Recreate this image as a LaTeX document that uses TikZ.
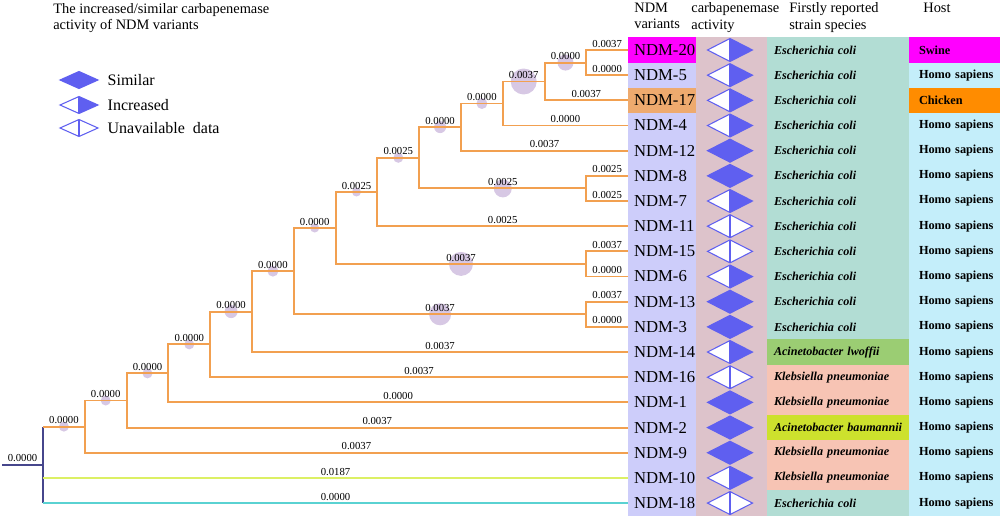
\documentclass[tikz,border=0pt]{standalone}
\usepackage{fontspec}
\setmainfont{Liberation Serif}
\usepackage{tikz}
\usetikzlibrary{positioning, shapes, calc}

\definecolor{ndm}{RGB}{205,205,250}
\definecolor{actbg}{RGB}{221,195,203}
\definecolor{actc}{RGB}{95,95,240}
\definecolor{eco}{RGB}{178,221,212}
\definecolor{alw}{RGB}{155,205,115}
\definecolor{kpn}{RGB}{247,196,180}
\definecolor{aba}{RGB}{205,225,45}
\definecolor{hom}{RGB}{196,238,250}
\definecolor{swi}{RGB}{255,0,255}
\definecolor{chk}{RGB}{255,140,0}
\definecolor{mag}{RGB}{255,0,255}
\definecolor{tan}{RGB}{238,170,110}
\definecolor{tree}{RGB}{242,160,80}
\definecolor{yel}{RGB}{220,240,100}
\definecolor{cyn}{RGB}{90,210,210}
\definecolor{navy}{RGB}{70,70,140}
\definecolor{bubble}{RGB}{215,200,228}

\begin{document}
\begin{tikzpicture}[x=0.02cm, y=-0.02cm,
  br/.style     = {draw=tree, line width=1.1pt},
  lbl/.style    = {above, pos=0.75, inner sep=1pt, font=\fontsize{6.1}{7}\selectfont},
  bub/.style    = {fill=bubble},
  dia/.style    = {diamond, draw=actc, line width=0.6pt, inner sep=0pt, outer sep=0pt, minimum width=0.9cm, minimum height=0.46cm},
  sim/.style    = {fill=actc},
  inc/.style    = {fill=white, path picture={
                     \fill[actc] (path picture bounding box.north) -- (path picture bounding box.east)
                                 -- (path picture bounding box.south) -- cycle;
                     \draw[actc, line width=0.6pt] (path picture bounding box.north) -- (path picture bounding box.south);}},
  una/.style    = {fill=white, path picture={
                     \draw[actc, line width=0.6pt] (path picture bounding box.north) -- (path picture bounding box.south);}},
  cell/.style   = {anchor=west, inner ysep=0pt, outer sep=0pt, minimum height=0.5034cm, align=left},
  ndmcell/.style= {cell, text width=1.12cm, inner xsep=0.12cm, font=\fontsize{9.5}{10}\selectfont},
  spcell/.style = {cell, text width=2.56cm, inner xsep=0.14cm, font=\fontsize{6.9}{8}\selectfont\bfseries\itshape},
  hocell/.style = {cell, text width=1.42cm, inner xsep=0.2cm, font=\fontsize{7}{8}\selectfont\bfseries},
  head/.style   = {anchor=north west, inner sep=0pt, align=left, font=\fontsize{8.2}{9.4}\selectfont},
  lgd/.style    = {font=\fontsize{9.1}{10}\selectfont}
]

\useasboundingbox (0,0) rectangle (1000,517);

\node [head] at (53,3)    (title) {The increased/similar carbapenemase\\activity of NDM variants};
\node [head] at (634,2.5) (hv)    {NDM\\variants};
\node [head] at (691,2.5) (ha)    {carbapenemase\\activity};
\node [head] at (789,2.5) (hs)    {Firstly reported\\strain species};
\node [head] at (923,2.5) (hh)    {Host};

\node [dia, sim, minimum width=0.76cm, minimum height=0.34cm] at (79,80)  (ls) {};
\node [dia, inc, minimum width=0.76cm, minimum height=0.34cm] at (79,105) (li) {};
\node [dia, una, minimum width=0.76cm, minimum height=0.34cm] at (79,128) (lu) {};
\node [lgd, right=0.07cm of ls] (lst) {Similar};
\node [lgd, right=0.07cm of li] (lit) {Increased};
\node [lgd, right=0.07cm of lu] (lut) {Unavailable~~data};

\fill [actbg] (696,37.4) rectangle (767,515.6);

\foreach \nv/\ak/\sn/\sk/\hn/\hk/\nk [count=\i from 0] in {
  20/inc/Escherichia coli/eco/Swine/swi/mag,
  5/inc/Escherichia coli/eco/Homo sapiens/hom/ndm,
  17/inc/Escherichia coli/eco/Chicken/chk/tan,
  4/inc/Escherichia coli/eco/Homo sapiens/hom/ndm,
  12/sim/Escherichia coli/eco/Homo sapiens/hom/ndm,
  8/sim/Escherichia coli/eco/Homo sapiens/hom/ndm,
  7/inc/Escherichia coli/eco/Homo sapiens/hom/ndm,
  11/una/Escherichia coli/eco/Homo sapiens/hom/ndm,
  15/una/Escherichia coli/eco/Homo sapiens/hom/ndm,
  6/inc/Escherichia coli/eco/Homo sapiens/hom/ndm,
  13/sim/Escherichia coli/eco/Homo sapiens/hom/ndm,
  3/sim/Escherichia coli/eco/Homo sapiens/hom/ndm,
  14/inc/Acinetobacter lwoffii/alw/Homo sapiens/hom/ndm,
  16/una/Klebsiella pneumoniae/kpn/Homo sapiens/hom/ndm,
  1/sim/Klebsiella pneumoniae/kpn/Homo sapiens/hom/ndm,
  2/sim/Acinetobacter baumannii/aba/Homo sapiens/hom/ndm,
  9/sim/Klebsiella pneumoniae/kpn/Homo sapiens/hom/ndm,
  10/inc/Klebsiella pneumoniae/kpn/Homo sapiens/hom/ndm,
  18/una/Escherichia coli/eco/Homo sapiens/hom/ndm}
{
  \node [ndmcell, fill=\nk] at (628,{50+25.17*\i}) (n\nv) {\mbox{NDM-\nv}};
  \node [dia, \ak]          at (730,{50+25.17*\i}) (a\nv) {};
  \node [spcell, fill=\sk]  at (767,{50+25.17*\i}) (s\nv) {\mbox{\sn}};
  \node [hocell, fill=\hk]  at (909,{50+25.17*\i}) (h\nv) {\mbox{\hn}};
}

\coordinate (o) at (2,464.8);
\coordinate (r) at (43,464.8);
\coordinate (a) at (84.8,426.6);
\coordinate (b) at (126.6,400.5);
\coordinate (c) at (168.4,373.4);
\coordinate (d) at (210.2,344.4);
\coordinate (e) at (252,311.6);
\coordinate (f) at (293.8,271.1);
\coordinate (g) at (335.6,228.0);
\coordinate (h) at (377.4,192.0);
\coordinate (i) at (419.2,157.8);
\coordinate (j) at (461,127.1);
\coordinate (k) at (502.8,103.5);
\coordinate (l) at (544.6,81.5);
\coordinate (m) at (586.4,62.6);
\coordinate (q) at (586.4,188.4);
\coordinate (s) at (586.4,263.9);
\coordinate (t) at (586.4,314.3);

\fill [bub] ($(r |- a)!.5!(a)$) circle (0.10cm);
\fill [bub] ($(a |- b)!.5!(b)$) circle (0.10cm);
\fill [bub] ($(b |- c)!.5!(c)$) circle (0.10cm);
\fill [bub] ($(c |- d)!.5!(d)$) circle (0.10cm);
\fill [bub] ($(d |- e)!.5!(e)$) circle (0.13cm);
\fill [bub] ($(e |- f)!.5!(f)$) circle (0.11cm);
\fill [bub] ($(f |- g)!.5!(g)$) circle (0.09cm);
\fill [bub] ($(f |- t)!.5!(t)$) circle (0.22cm);
\fill [bub] ($(g |- h)!.5!(h)$) circle (0.09cm);
\fill [bub] ($(g |- s)!.5!(s)$) circle (0.24cm);
\fill [bub] ($(h |- i)!.5!(i)$) circle (0.10cm);
\fill [bub] ($(i |- j)!.5!(j)$) circle (0.12cm);
\fill [bub] ($(i |- q)!.5!(q)$) circle (0.18cm);
\fill [bub] ($(j |- k)!.5!(k)$) circle (0.11cm);
\fill [bub] ($(k |- l)!.5!(l)$) circle (0.26cm);
\fill [bub] ($(l |- m)!.5!(m)$) circle (0.16cm);

\draw [br, draw=navy] (o) -- node [lbl, pos=.5] {0.0000} (r);
\draw [br, draw=navy] (r |- a) -- (r |- n18.west);
\draw [br]            (r |- a) -- node [lbl, pos=.5] {0.0000} (a);
\draw [br, draw=yel]  (r |- n10.west) -- node [lbl, pos=.5] {0.0187} (n10.west);
\draw [br, draw=cyn]  (r |- n18.west) -- node [lbl, pos=.5] {0.0000} (n18.west);

\draw [br] (a) |- node [lbl] {0.0000} (b);
\draw [br] (a) |- node [lbl] {0.0037} (n9.west);
\draw [br] (b) |- node [lbl] {0.0000} (c);
\draw [br] (b) |- node [lbl] {0.0037} (n2.west);
\draw [br] (c) |- node [lbl] {0.0000} (d);
\draw [br] (c) |- node [lbl] {0.0000} (n1.west);
\draw [br] (d) |- node [lbl] {0.0000} (e);
\draw [br] (d) |- node [lbl] {0.0037} (n16.west);
\draw [br] (e) |- node [lbl] {0.0000} (f);
\draw [br] (e) |- node [lbl] {0.0037} (n14.west);
\draw [br] (f) |- node [lbl] {0.0000} (g);
\draw [br] (f) |- node [lbl] {0.0037} (t);
\draw [br] (g) |- node [lbl] {0.0025} (h);
\draw [br] (g) |- node [lbl] {0.0037} (s);
\draw [br] (h) |- node [lbl] {0.0025} (i);
\draw [br] (h) |- node [lbl] {0.0025} (n11.west);
\draw [br] (i) |- node [lbl] {0.0000} (j);
\draw [br] (i) |- node [lbl] {0.0025} (q);
\draw [br] (j) |- node [lbl] {0.0000} (k);
\draw [br] (j) |- node [lbl] {0.0037} (n12.west);
\draw [br] (k) |- node [lbl] {0.0037} (l);
\draw [br] (k) |- node [lbl] {0.0000} (n4.west);
\draw [br] (l) |- node [lbl] {0.0000} (m);
\draw [br] (l) |- node [lbl] {0.0037} (n17.west);
\draw [br] (m) |- node [lbl] {0.0037} (n20.west);
\draw [br] (m) |- node [lbl] {0.0000} (n5.west);
\draw [br] (q) |- node [lbl] {0.0025} (n8.west);
\draw [br] (q) |- node [lbl] {0.0025} (n7.west);
\draw [br] (s) |- node [lbl] {0.0037} (n15.west);
\draw [br] (s) |- node [lbl] {0.0000} (n6.west);
\draw [br] (t) |- node [lbl] {0.0037} (n13.west);
\draw [br] (t) |- node [lbl] {0.0000} (n3.west);

\end{tikzpicture}
\end{document}
